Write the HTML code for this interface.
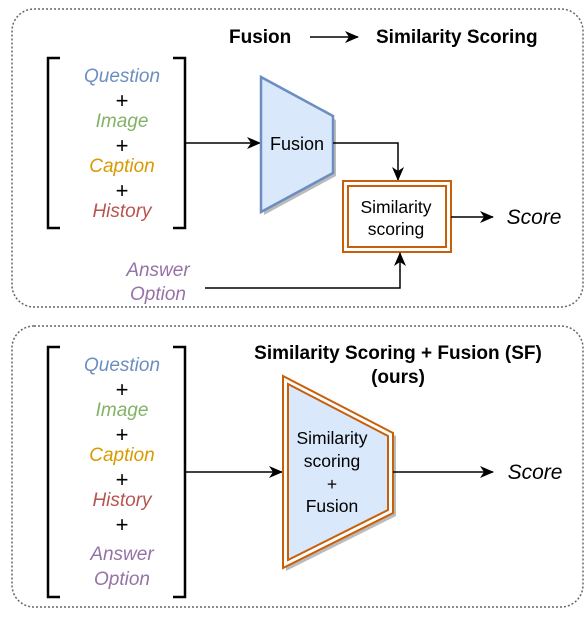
<!DOCTYPE html>
<html><head><style>body{margin:0;background:#fff}</style></head><body>
<svg width="587" height="612" viewBox="0 0 587 612" xmlns="http://www.w3.org/2000/svg" font-family="Liberation Sans, sans-serif">
<defs>
<marker id="a" markerWidth="14" markerHeight="12" refX="13" refY="6" orient="auto" markerUnits="userSpaceOnUse"><path d="M0,0 L14,6 L0,12 L4,6 Z" fill="#000"/></marker>
</defs>
<rect x="12" y="9" width="571" height="298" rx="22" fill="none" stroke="#666" stroke-width="1.5" stroke-dasharray="2,2"/>
<rect x="12" y="326" width="571" height="281" rx="22" fill="none" stroke="#666" stroke-width="1.5" stroke-dasharray="2,2"/>
<text x="229" y="43" font-size="19" font-weight="bold">Fusion</text>
<line x1="310" y1="37" x2="358" y2="37" stroke="#000" stroke-width="1.5" marker-end="url(#a)"/>
<text x="376" y="43" font-size="19" font-weight="bold">Similarity Scoring</text>
<path d="M60,58 H48 V228 H60" fill="none" stroke="#000" stroke-width="2.5"/>
<path d="M173,58 H185 V228 H173" fill="none" stroke="#000" stroke-width="2.5"/>
<g font-size="19" font-style="italic" text-anchor="middle">
<text x="122" y="82" fill="#6c8ebf">Question</text>
<text x="122" y="108" font-style="normal" font-size="22">+</text>
<text x="122" y="127" fill="#82b366">Image</text>
<text x="122" y="153" font-style="normal" font-size="22">+</text>
<text x="122" y="172" fill="#d79b00">Caption</text>
<text x="122" y="198" font-style="normal" font-size="22">+</text>
<text x="122" y="217" fill="#b85450">History</text>
<text x="158" y="276" fill="#9673a6">Answer</text>
<text x="158" y="300" fill="#9673a6">Option</text>
</g>
<line x1="185" y1="143" x2="260" y2="143" stroke="#000" stroke-width="1.5" marker-end="url(#a)"/>
<polygon points="264,80 336,120 336,176 264,215" fill="#bbb"/>
<polygon points="261,77 333,116 333,173 261,212" fill="#dae8fc" stroke="#6c8ebf" stroke-width="2.5"/>
<text x="297" y="150" font-size="18" text-anchor="middle">Fusion</text>
<polyline points="333,143 398,143 398,180" fill="none" stroke="#000" stroke-width="1.5" marker-end="url(#a)"/>
<rect x="343" y="181" width="108" height="71" fill="#fff" stroke="#c8600a" stroke-width="2"/>
<rect x="348" y="186" width="98" height="61" fill="none" stroke="#c8600a" stroke-width="2"/>
<text x="396" y="213" font-size="17.5" text-anchor="middle">Similarity</text>
<text x="396" y="235" font-size="17.5" text-anchor="middle">scoring</text>
<line x1="451" y1="217" x2="493" y2="217" stroke="#000" stroke-width="1.5" marker-end="url(#a)"/>
<text x="534" y="224" font-size="21" font-style="italic" text-anchor="middle">Score</text>
<polyline points="205,288 400,288 400,253" fill="none" stroke="#000" stroke-width="1.5" marker-end="url(#a)"/>
<text x="398" y="359" font-size="19" font-weight="bold" text-anchor="middle">Similarity Scoring + Fusion (SF)</text>
<text x="398" y="383" font-size="19" font-weight="bold" text-anchor="middle">(ours)</text>
<path d="M60,347 H48 V597 H60" fill="none" stroke="#000" stroke-width="2.5"/>
<path d="M173,347 H185 V597 H173" fill="none" stroke="#000" stroke-width="2.5"/>
<g font-size="19" font-style="italic" text-anchor="middle">
<text x="122" y="371" fill="#6c8ebf">Question</text>
<text x="122" y="397" font-style="normal" font-size="22">+</text>
<text x="122" y="416" fill="#82b366">Image</text>
<text x="122" y="442" font-style="normal" font-size="22">+</text>
<text x="122" y="461" fill="#d79b00">Caption</text>
<text x="122" y="487" font-style="normal" font-size="22">+</text>
<text x="122" y="506" fill="#b85450">History</text>
<text x="122" y="532" font-style="normal" font-size="22">+</text>
<text x="122" y="560" fill="#9673a6">Answer</text>
<text x="122" y="585" fill="#9673a6">Option</text>
</g>
<line x1="185" y1="472" x2="282" y2="472" stroke="#000" stroke-width="1.5" marker-end="url(#a)"/>
<polygon points="286,379 396,436 396,516 286,571" fill="#bbb"/>
<polygon points="283,376 393,433 393,513 283,568" fill="#fff" stroke="#c8600a" stroke-width="2"/>
<polygon points="288,384 388,436 388,510 288,560" fill="#dae8fc" stroke="#c8600a" stroke-width="2"/>
<g font-size="17.5" text-anchor="middle">
<text x="332" y="444">Similarity</text>
<text x="332" y="467">scoring</text>
<text x="332" y="490">+</text>
<text x="332" y="512">Fusion</text>
</g>
<line x1="393" y1="472" x2="493" y2="472" stroke="#000" stroke-width="1.5" marker-end="url(#a)"/>
<text x="535" y="479" font-size="21" font-style="italic" text-anchor="middle">Score</text>
</svg>
</body></html>
